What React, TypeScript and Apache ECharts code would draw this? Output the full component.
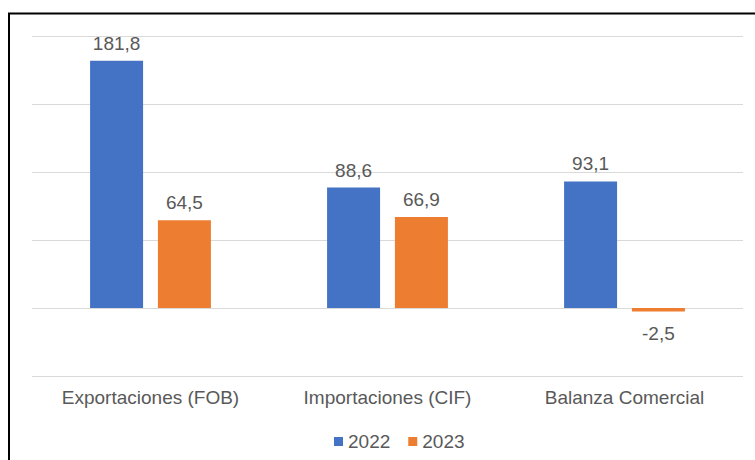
import React, { useEffect, useRef } from "react";
import * as echarts from "echarts";

const categories = ["Exportaciones (FOB)", "Importaciones (CIF)", "Balanza Comercial"];
const values2022 = [181.8, 88.6, 93.1];
const values2023 = [64.5, 66.9, -2.5];
const seriesNames = ["2022", "2023"];

const FONT = "'Liberation Sans', Arial, sans-serif";
const TEXT = "#595959";

const fmt = (v: number) => v.toFixed(1).replace(".", ",");

export default function App() {
  const ref = useRef<HTMLDivElement>(null);
  useEffect(() => {
    if (!ref.current) return;
    const chart = echarts.init(ref.current, null, { renderer: "svg" });
    const label = {
      show: true,
      position: "outside",
      distance: 8,
      color: TEXT,
      fontSize: 19,
      fontFamily: FONT,
      formatter: (p: any) => fmt(p.value),
    };
    const toData = (arr: number[]) =>
      arr.map((v) => (v < 0 ? { value: v, label: { distance: 13 } } : v));
    chart.setOption({
      animation: false,
      backgroundColor: "#ffffff",
      textStyle: { fontFamily: FONT },
      grid: { left: 32, right: 12, top: 36, bottom: 84 },
      legend: {
        top: 427,
        left: 329,
        itemWidth: 9,
        itemHeight: 9,
        itemGap: 18,
        icon: "rect",
        textStyle: { color: TEXT, fontSize: 19, fontFamily: FONT },
        data: seriesNames,
      },
      xAxis: {
        type: "category",
        data: categories,
        axisLine: { show: false },
        axisTick: { show: false },
        axisLabel: { color: TEXT, fontSize: 19, fontFamily: FONT, margin: 12 },
      },
      yAxis: {
        type: "value",
        min: -50,
        max: 200,
        interval: 50,
        axisLabel: { show: false },
        axisLine: { show: false },
        axisTick: { show: false },
        splitLine: { lineStyle: { color: "#d9d9d9", width: 1 } },
      },
      series: [
        {
          name: seriesNames[0],
          type: "bar",
          data: toData(values2022),
          barWidth: 53,
          barGap: "28%",
          itemStyle: { color: "#4472C4" },
          label,
        },
        {
          name: seriesNames[1],
          type: "bar",
          data: toData(values2023),
          barWidth: 53,
          barGap: "28%",
          itemStyle: { color: "#ED7D31" },
          label,
        },
      ],
      graphic: [
        {
          type: "rect",
          shape: { x: 9, y: 13.5, width: 800, height: 500 },
          style: { fill: "none", stroke: "#000000", lineWidth: 2 },
          silent: true,
        },
      ],
    });
    return () => chart.dispose();
  }, []);
  return (
    <div
      ref={ref}
      style={{ position: "absolute", left: 0, top: 0, width: 755, height: 460 }}
    />
  );
}
